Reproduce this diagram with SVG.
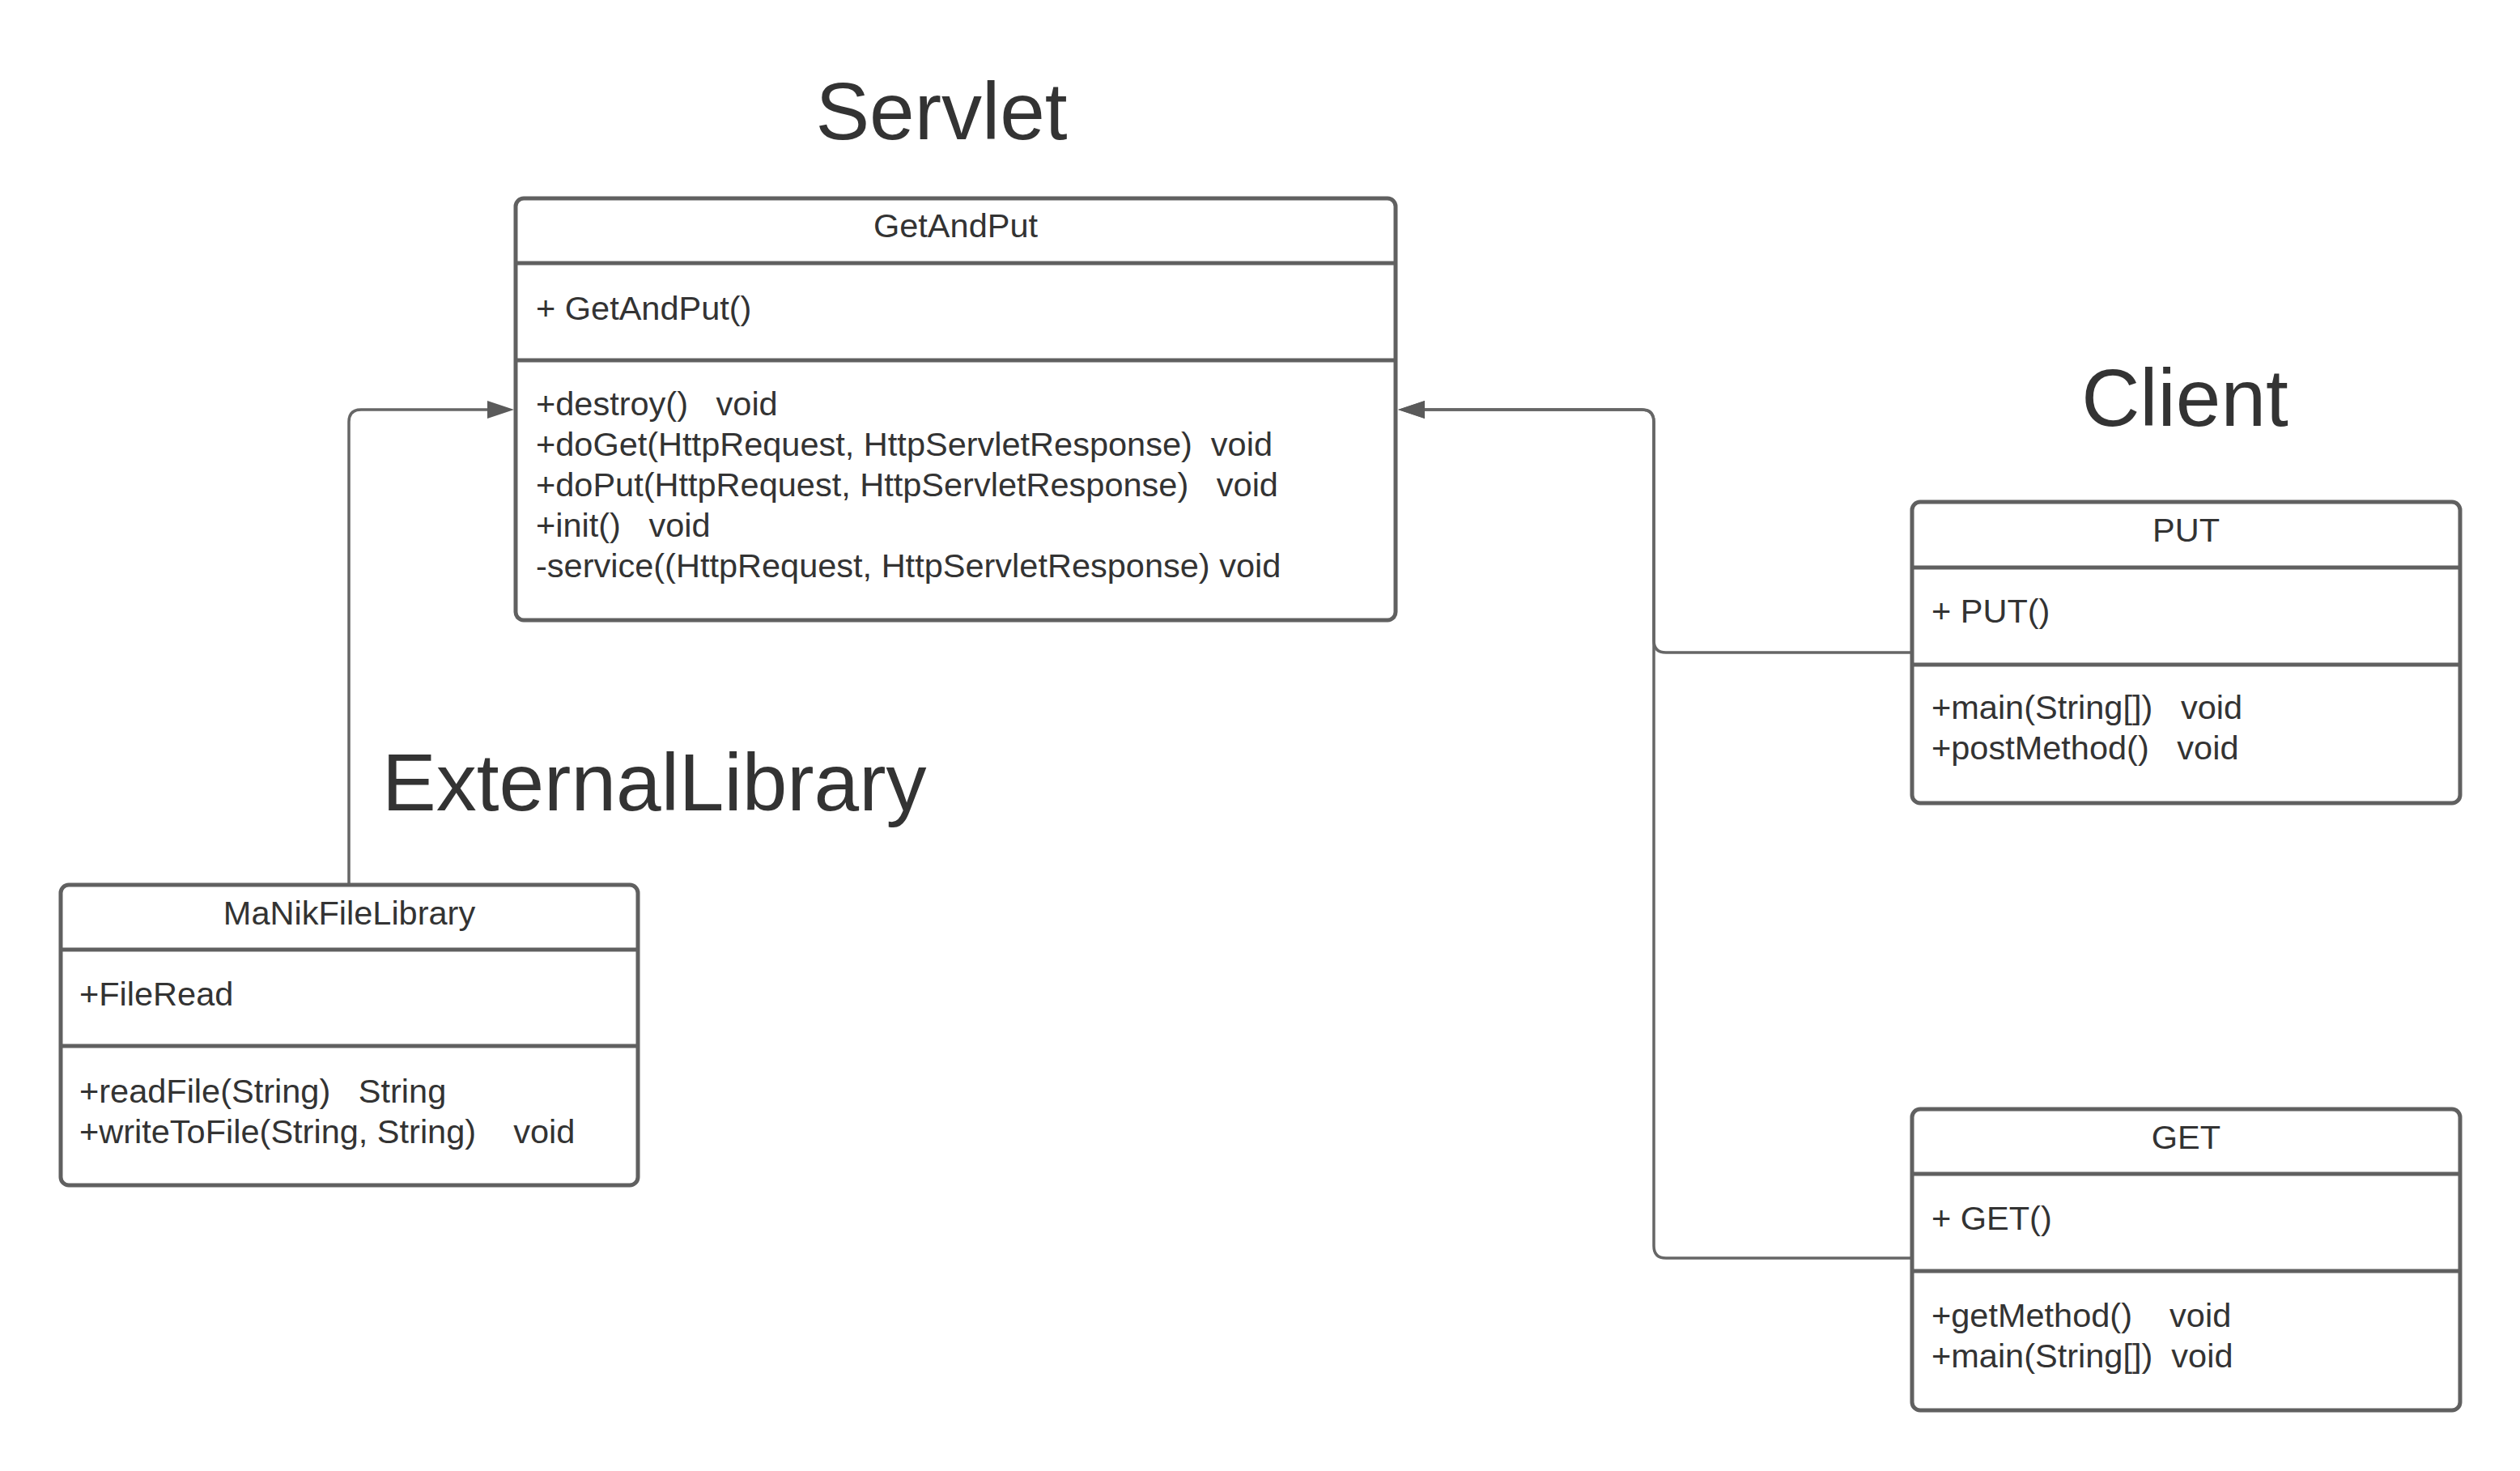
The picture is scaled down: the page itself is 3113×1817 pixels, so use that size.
<svg xmlns="http://www.w3.org/2000/svg" width="3113" height="1817" viewBox="0 0 3113 1817" xml:space="preserve">
<style>
.box{fill:#ffffff;stroke:#606060;stroke-width:5}
.div{stroke:#606060;stroke-width:5}
.t{font-family:"Liberation Sans",Arial,sans-serif;font-size:41.5px;fill:#333333;white-space:pre}
.c{text-anchor:middle}
.title{font-family:"Liberation Sans",Arial,sans-serif;font-size:100px;fill:#333333}
.conn{fill:none;stroke:#666666;stroke-width:3.5}
</style>
<defs>
<marker id="arrow" markerUnits="userSpaceOnUse" markerWidth="34" markerHeight="24" refX="0" refY="11" orient="auto">
<path d="M0,0 L33,11 L0,22 z" fill="#5a5a5a"/>
</marker>
</defs>
<rect width="3113" height="1817" fill="#ffffff"/>

<g id="titles">
<text class="title c" x="1163" y="172">Servlet</text>
<text class="title c" x="2699" y="526">Client</text>
<text class="title" x="472" y="1001">ExternalLibrary</text>
</g>

<g id="connectors">
<path class="conn" d="M431,1093 V521 Q431,506 446,506 H602" marker-end="url(#arrow)"/>
<path class="conn" d="M2362,806 H2058 Q2043,806 2043,791 V521 Q2043,506 2028,506 H1760" marker-end="url(#arrow)"/>
<path class="conn" d="M2362,1554 H2058 Q2043,1554 2043,1539 V521 Q2043,506 2028,506 H1760" marker-end="url(#arrow)"/>
</g>

<g id="GetAndPut">
<rect class="box" x="637" y="245" width="1087" height="521" rx="10"/>
<line class="div" x1="637" y1="325" x2="1724" y2="325"/>
<line class="div" x1="637" y1="445" x2="1724" y2="445"/>
<text class="t c" x="1180.5" y="293">GetAndPut</text>
<text class="t" x="662" y="395">+ GetAndPut()</text>
<text class="t" x="662" y="513">+destroy()   void</text>
<text class="t" x="662" y="563">+doGet(HttpRequest, HttpServletResponse)  void</text>
<text class="t" x="662" y="613">+doPut(HttpRequest, HttpServletResponse)   void</text>
<text class="t" x="662" y="663">+init()   void</text>
<text class="t" x="662" y="713">-service((HttpRequest, HttpServletResponse) void</text>
</g>

<g id="PUT">
<rect class="box" x="2362" y="620" width="677" height="372" rx="10"/>
<line class="div" x1="2362" y1="701" x2="3039" y2="701"/>
<line class="div" x1="2362" y1="821" x2="3039" y2="821"/>
<text class="t c" x="2700.5" y="669">PUT</text>
<text class="t" x="2386" y="769">+ PUT()</text>
<text class="t" x="2386" y="888">+main(String[])   void</text>
<text class="t" x="2386" y="938">+postMethod()   void</text>
</g>

<g id="GET">
<rect class="box" x="2362" y="1370" width="677" height="372" rx="10"/>
<line class="div" x1="2362" y1="1450" x2="3039" y2="1450"/>
<line class="div" x1="2362" y1="1570" x2="3039" y2="1570"/>
<text class="t c" x="2700.5" y="1419">GET</text>
<text class="t" x="2386" y="1519">+ GET()</text>
<text class="t" x="2386" y="1639">+getMethod()    void</text>
<text class="t" x="2386" y="1689">+main(String[])  void</text>
</g>

<g id="MaNikFileLibrary">
<rect class="box" x="75" y="1093" width="713" height="371" rx="10"/>
<line class="div" x1="75" y1="1173" x2="788" y2="1173"/>
<line class="div" x1="75" y1="1292" x2="788" y2="1292"/>
<text class="t c" x="431.5" y="1142">MaNikFileLibrary</text>
<text class="t" x="98" y="1242">+FileRead</text>
<text class="t" x="98" y="1362">+readFile(String)   String</text>
<text class="t" x="98" y="1412">+writeToFile(String, String)    void</text>
</g>
</svg>
